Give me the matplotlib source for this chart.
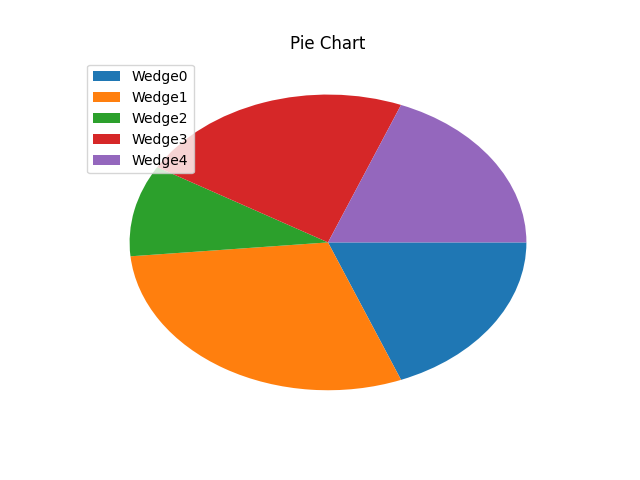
import matplotlib
matplotlib.use("Agg")
import matplotlib.pyplot as plt

labels = ["Wedge0", "Wedge1", "Wedge2", "Wedge3", "Wedge4"]
sizes = [19, 29.5, 10, 22.5, 19]

fig, ax = plt.subplots(figsize=(6.4, 4.8), dpi=100)
ax.pie(sizes, labels=None, counterclock=False)
# the reference pie is stretched to fill the axes
ax.set_aspect("auto")
ax.set_title("Pie Chart")
ax.legend(labels, loc="upper left")
fig.savefig("out.png")
